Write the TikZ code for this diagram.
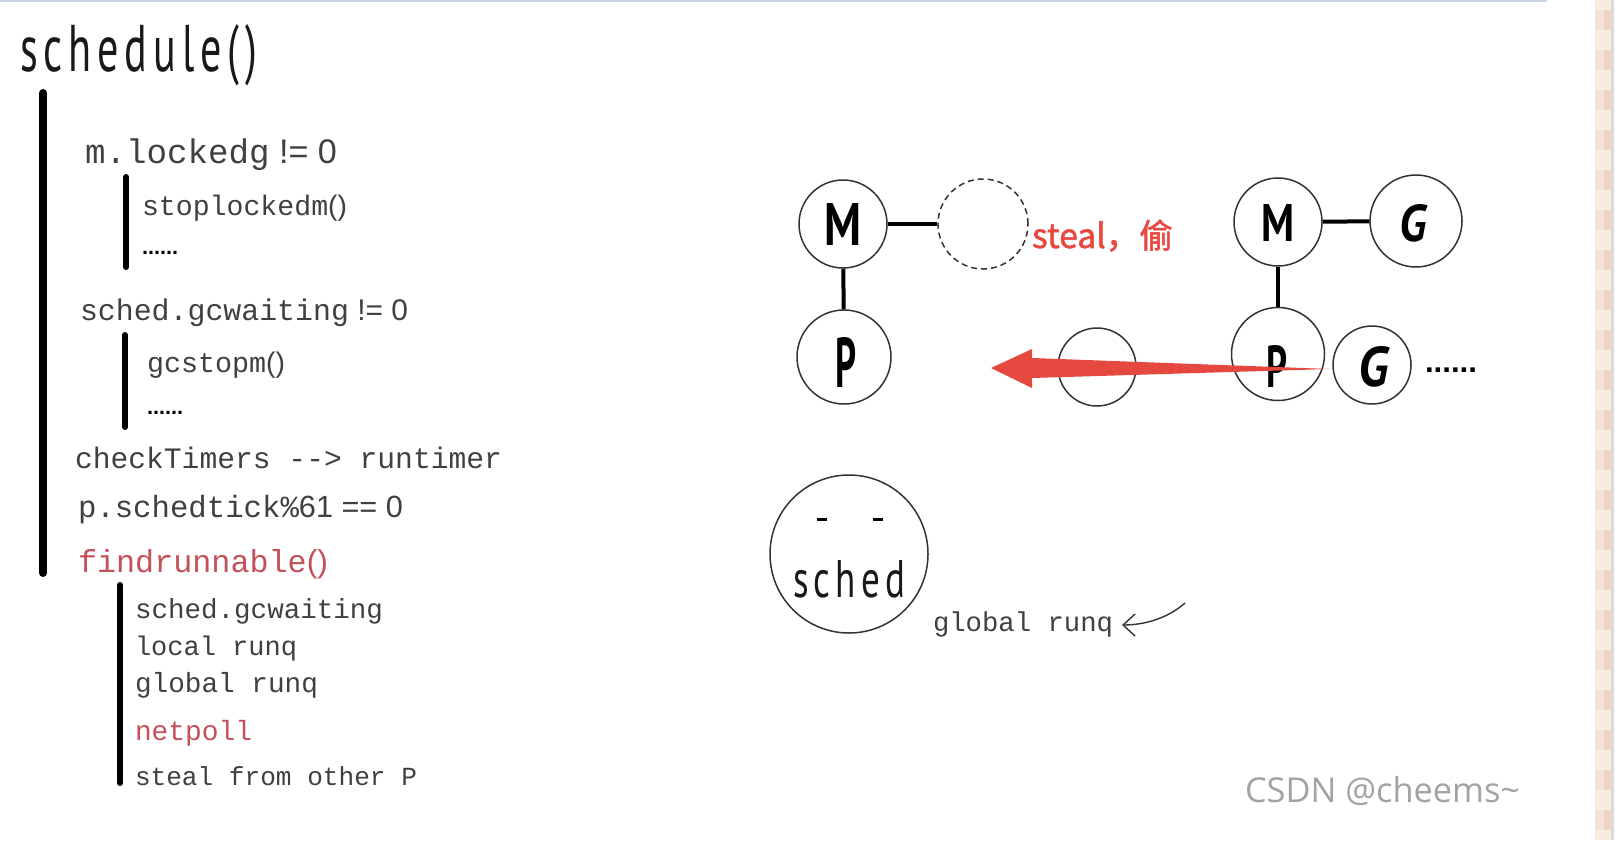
\documentclass[tikz,border=0pt]{standalone}
\usepackage{fontspec}
\setmainfont{Liberation Sans}
\newfontfamily\mono{Liberation Mono}
\newfontfamily\ssans{Liberation Sans}
\newfontfamily\hand{PT Sans}
\newfontfamily\handsp[LetterSpace=14]{PT Sans}
\newfontfamily\cjk[AutoFakeBold=1.5]{Noto Sans CJK SC}
\newfontfamily\wmfont{Open Sans}
\usetikzlibrary{arrows.meta}
\newdimen\pxu \pxu=0.5pt
\newcommand\fitw[2]{\resizebox{#1\pxu}{!}{#2}}
\newcommand\fitwh[3]{\resizebox{#1\pxu}{#2\pxu}{#3}}
\definecolor{txtgray}{HTML}{404040}
\definecolor{redtxt}{HTML}{C4515A}
\definecolor{redsteal}{HTML}{E8483F}
\definecolor{circgray}{HTML}{333333}
\definecolor{arrowred}{HTML}{E5483F}
\definecolor{wmgray}{HTML}{A3A3A3}
\definecolor{topline}{HTML}{C9D3E3}
\definecolor{stripecream}{HTML}{F7EDDF}
\definecolor{stripepinkA}{HTML}{F5E2D6}
\definecolor{stripepinkB}{HTML}{F2D2C8}
\definecolor{stripeedge}{HTML}{DCDCDC}
\begin{document}
\begin{tikzpicture}[x=0.5pt,y=-0.5pt,
  lbl/.style={anchor=base west, inner sep=0pt, outer sep=0pt, text=txtgray},
  redlbl/.style={lbl, text=redtxt},
  letter/.style={anchor=center, inner sep=0pt, outer sep=0pt, text=black},
  circ/.style={circle, draw=circgray, line width=0.75pt, inner sep=0pt},
  dcirc/.style={circ, dashed, dash pattern=on 3pt off 2pt},
  conn/.style={line width=2pt, black},
  mainbar/.style={line width=4pt, black, line cap=round},
  subbar/.style={line width=3pt, black, line cap=round},
  thinarrow/.style={line width=0.7pt, circgray, -{Straight Barb[length=6pt,width=11pt]}}
]
\useasboundingbox (0,0) rectangle (1620,840);
\fill[white] (0,0) rectangle (1620,840);
% top line and right stripe
\fill[topline] (0,0) rectangle (1547,2.5);
\fill[stripecream] (1595,0) rectangle (1611,840);
\foreach \yy in {10,50,...,810} {
  \fill[stripepinkA] (1595,\yy) rectangle (1604,\yy+20);
  \fill[stripepinkB] (1604,\yy) rectangle (1611,\yy+20);
}
\fill[stripeedge] (1611,0) rectangle (1613.5,840);

% ---------- left: code outline ----------
\node[lbl, text=black!90] (title) at (20,72) {\fitwh{237}{47}{\handsp schedule()}};
\draw[mainbar] (43,93) -- (43,573);

\node[lbl] (lockedg) at (85,163) {\fitw{252}{\mono m.lockedg\ssans{} != 0}};
\draw[subbar] (126,177) -- (126,267);
\node[lbl] (stoplocked) at (142,215) {\fitw{205}{\mono stoplockedm\ssans()}};
\node[lbl, text=black] (dots1) at (142,254) {\fitw{36}{\ssans\bfseries ......}};

\node[lbl] (gcw) at (80,320) {\fitw{328}{\mono sched.gcwaiting\ssans{} != 0}};
\draw[subbar] (125,335) -- (125,427);
\node[lbl] (gcstop) at (147,372) {\fitw{138}{\mono gcstopm\ssans()}};
\node[lbl, text=black] (dots2) at (147,414) {\fitw{36}{\ssans\bfseries ......}};

\node[lbl] (timers) at (75,468) {\fitw{427}{\mono checkTimers -\kern0pt-> runtimer}};
\node[lbl] (tick) at (78,517) {\fitw{325}{\mono p.schedtick\%\ssans 61 == 0}};
\node[redlbl] (findr) at (78,572) {\fitw{250}{\mono findrunnable\ssans()}};

\draw[subbar] (120,585) -- (120,783);
\node[lbl] (fgcw) at (135,618) {\fitw{248}{\mono sched.gcwaiting}};
\node[lbl] (local) at (135,655) {\fitw{162}{\mono local runq}};
\node[lbl] (global) at (135,692) {\fitw{183}{\mono global runq}};
\node[redlbl] (netpoll) at (135,740) {\fitw{117}{\mono netpoll}};
\node[lbl] (stealp) at (135,785) {\fitw{282}{\mono steal from other P}};

% ---------- right: M/P/G diagram ----------
\node[circ, minimum size=44pt] (m1) at (843,224) {};
\node[dcirc, minimum size=45pt] (empty) at (983,224) {};
\node[circ, minimum size=47pt] (p1) at (844,357) {};
\node[circ, minimum size=39pt] (slot) at (1097,367) {};
\node[circ, minimum size=44pt] (m2) at (1278,222) {};
\node[circ, minimum size=46pt] (g1) at (1416,221) {};
\node[circ, minimum size=46.5pt] (p2) at (1278,354) {};
\node[circ, minimum size=39pt] (g2) at (1372,365) {};

\node[letter] (m1t) at (843,224) {\fitwh{37}{42}{\hand\bfseries M}};
\node[letter] (p1t) at (846,362) {\fitwh{21}{50}{\hand\bfseries P}};
\node[letter] (m2t) at (1278,223) {\fitwh{33}{37}{\hand\bfseries M}};
\node[letter] (g1t) at (1413,223) {\fitwh{27}{37}{\hand\bfseries\itshape G}};
\node[letter] (p2t) at (1277,366) {\fitwh{21}{42}{\hand\bfseries P}};
\node[letter] (g2t) at (1373,367) {\fitwh{30}{40}{\hand\bfseries\itshape G}};

\draw[conn] (m1) -- (empty);
\draw[conn] (m1) -- (p1);
\draw[conn] (m2) -- (g1);
\draw[conn] (m2) -- (p2);

\node[lbl, text=redsteal] (steal) at (1032,248) {\fitw{141}{\cjk\bfseries steal，偷}};
\node[lbl, text=black] (dots3) at (1425,372) {\fitw{52}{\ssans\bfseries ......}};

% red steal arrow (tapered)
\coordinate (aTail) at (1330,369);
\coordinate (aTip) at (991,368);
\fill[arrowred] (aTail) -- (1032,378) -- (1032,388) -- (aTip) -- (1032,349) -- (1032,358) -- cycle;

% sched
\node[circ, minimum size=79pt] (sched) at (849,554) {};
\draw[line width=1.5pt, black] (817,519) -- (827,519);
\draw[line width=1.5pt, black] (873,519) -- (883,519);
\node[lbl, text=black!90] (schedt) at (793,597) {\fitwh{112}{37}{\handsp sched}};

\node[lbl] (gr2) at (933,631) {\fitw{180}{\mono global runq}};
\coordinate (grStart) at (1185,603);
\coordinate (grTip) at (1122,625);
\draw[thinarrow] (grStart) .. controls (1168,618) and (1145,625) .. (grTip);

% watermark
\node[lbl, text=wmgray] (wm) at (1245,802) {\fitw{275}{\wmfont CSDN @cheems\textasciitilde}};
\end{tikzpicture}
\end{document}
